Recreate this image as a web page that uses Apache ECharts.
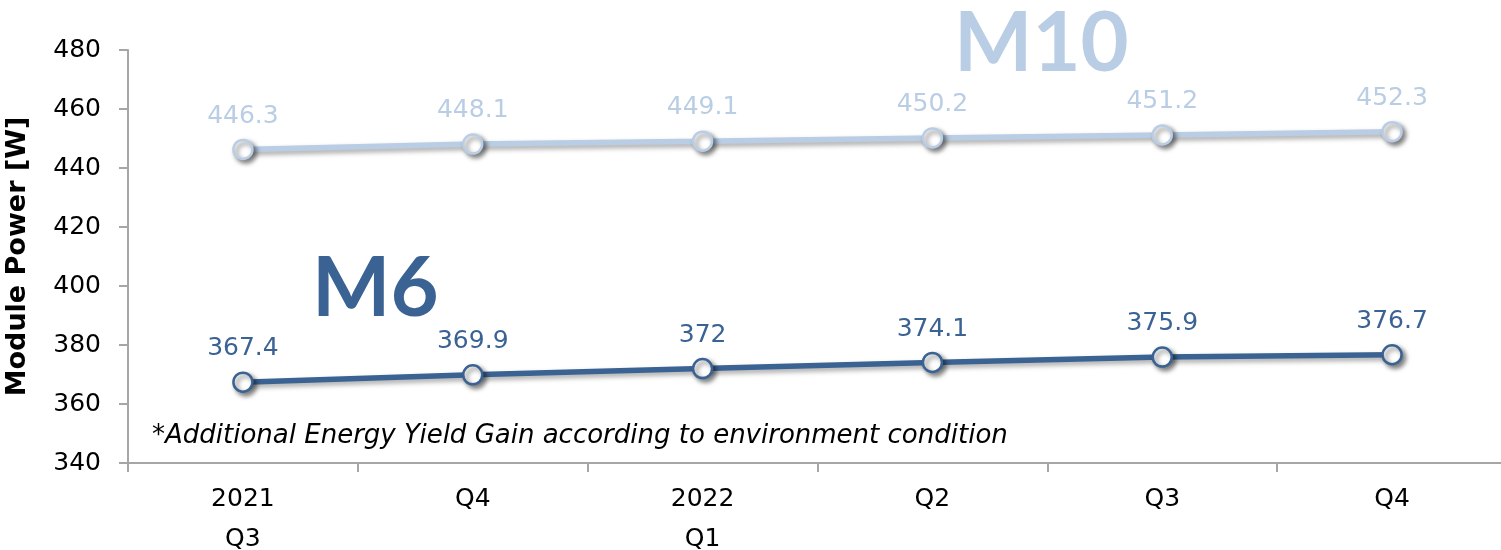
<!DOCTYPE html>
<html>
<head>
<meta charset="utf-8">
<script src="https://cdn.jsdelivr.net/npm/echarts@6/dist/echarts.min.js"></script>
<style>html,body{margin:0;padding:0;background:#fff}#c{width:1501px;height:550px}</style>
</head>
<body>
<div id="c"></div>
<script>
const categories = ['2021\nQ3', 'Q4', '2022\nQ1', 'Q2', 'Q3', 'Q4'];
const m10Values = [446.3, 448.1, 449.1, 450.2, 451.2, 452.3];
const m6Values = [367.4, 369.9, 372, 374.1, 375.9, 376.7];
const yTicks = [340, 360, 380, 400, 420, 440, 460, 480];

const FONT = '"DejaVu Sans", sans-serif';
const BIG = 'Lato, "DejaVu Sans", sans-serif';
const chart = echarts.init(document.getElementById('c'));

function lineSeries(name, data, color) {
  return {
    name, type: 'line', data,
    symbol: 'circle', symbolSize: 19,
    itemStyle: { color: '#fff', borderColor: color, borderWidth: 2.5,
      shadowColor: 'rgba(0,0,0,0.5)', shadowBlur: 5, shadowOffsetX: 3, shadowOffsetY: 3 },
    lineStyle: { color, width: 5.5,
      shadowColor: 'rgba(0,0,0,0.35)', shadowBlur: 5, shadowOffsetX: 2, shadowOffsetY: 3 },
    label: { show: true, position: 'top', distance: 10, color, fontSize: 25, fontFamily: FONT,
      formatter: p => String(p.value) },
    z: 3
  };
}

chart.setOption({
  animation: false,
  grid: { left: 128, right: -6, top: 50, bottom: 87, outerBoundsMode: 'none', containLabel: false },
  xAxis: {
    type: 'category', data: categories, boundaryGap: true,
    axisLine: { lineStyle: { color: '#A6A6A6', width: 2 } },
    axisTick: { show: true, length: 9, lineStyle: { color: '#A6A6A6', width: 2 } },
    axisLabel: { color: '#000', fontSize: 25, fontFamily: FONT, margin: 16, lineHeight: 40 }
  },
  yAxis: {
    type: 'value', min: yTicks[0], max: yTicks[yTicks.length - 1], interval: 20,
    name: 'Module Power [W]', nameLocation: 'middle', nameGap: 97,
    nameTextStyle: { color: '#000', fontSize: 27, fontWeight: 'bold', fontFamily: FONT },
    axisLine: { show: true, lineStyle: { color: '#A6A6A6', width: 2 } },
    axisTick: { show: true, length: 9, lineStyle: { color: '#A6A6A6', width: 2 } },
    splitLine: { show: false },
    axisLabel: { color: '#000', fontSize: 25, fontFamily: FONT, margin: 27 }
  },
  series: [
    lineSeries('M10', m10Values, '#B9CDE5'),
    lineSeries('M6', m6Values, '#3A6293')
  ],
  graphic: [
    { type: 'text', left: 312, top: 248, style: { text: 'M6', fill: '#3A6293', font: 'bold 83px ' + BIG } },
    { type: 'text', left: 954, top: 3, style: { text: 'M10', fill: '#B9CDE5', font: 'bold 83px ' + BIG } },
    { type: 'text', left: 152, top: 423, style: { text: '*Additional Energy Yield Gain according to environment condition', fill: '#000', font: 'italic 26px ' + FONT } }
  ]
});
</script>
</body>
</html>
